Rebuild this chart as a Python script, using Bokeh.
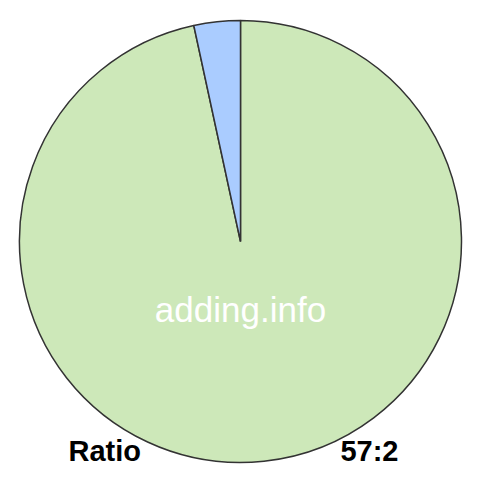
import math
from bokeh.plotting import figure
from bokeh.models import Range1d, ColumnDataSource
from bokeh.core.properties import value
from bokeh.embed import file_html
from bokeh.resources import INLINE

# data
labels = ["57", "2"]
values = [57, 2]
colors = ["#cde8b9", "#aaccff"]
ratio_label = "Ratio"
ratio_text = "57:2"
watermark = "adding.info"

total = sum(values)
start = math.pi / 2
b = values[1] / total * 2 * math.pi
angles_start = [start + b, start]
angles_end = [start + 2 * math.pi, start + b]

src = ColumnDataSource(dict(start=angles_start, end=angles_end, color=colors, label=labels))

p = figure(width=464, height=464, output_backend="svg", toolbar_location=None,
           x_range=Range1d(0, 464), y_range=Range1d(16, 480), min_border=0)
p.axis.visible = False
p.grid.visible = False
p.outline_line_color = None
p.background_fill_color = "white"
p.border_fill_color = "white"

p.wedge(x=240, y=239, radius=221, radius_units="data", start_angle="start", end_angle="end",
        fill_color="color", line_color="#333333", line_width=1.5, source=src)

p.text(x=[240], y=[171], text=[watermark], text_color="white", text_font=value("Liberation Sans"),
       text_font_size="35px", text_align="center", text_baseline="alphabetic")
p.text(x=[68], y=[30], text=[ratio_label], text_color="black", text_font=value("Liberation Sans"),
       text_font_size="29px", text_font_style="bold", text_align="left", text_baseline="alphabetic")
p.text(x=[398], y=[30], text=[ratio_text], text_color="black", text_font=value("Liberation Sans"),
       text_font_size="29px", text_font_style="bold", text_align="right", text_baseline="alphabetic")

open("out.html", "w").write(file_html(p, INLINE))
